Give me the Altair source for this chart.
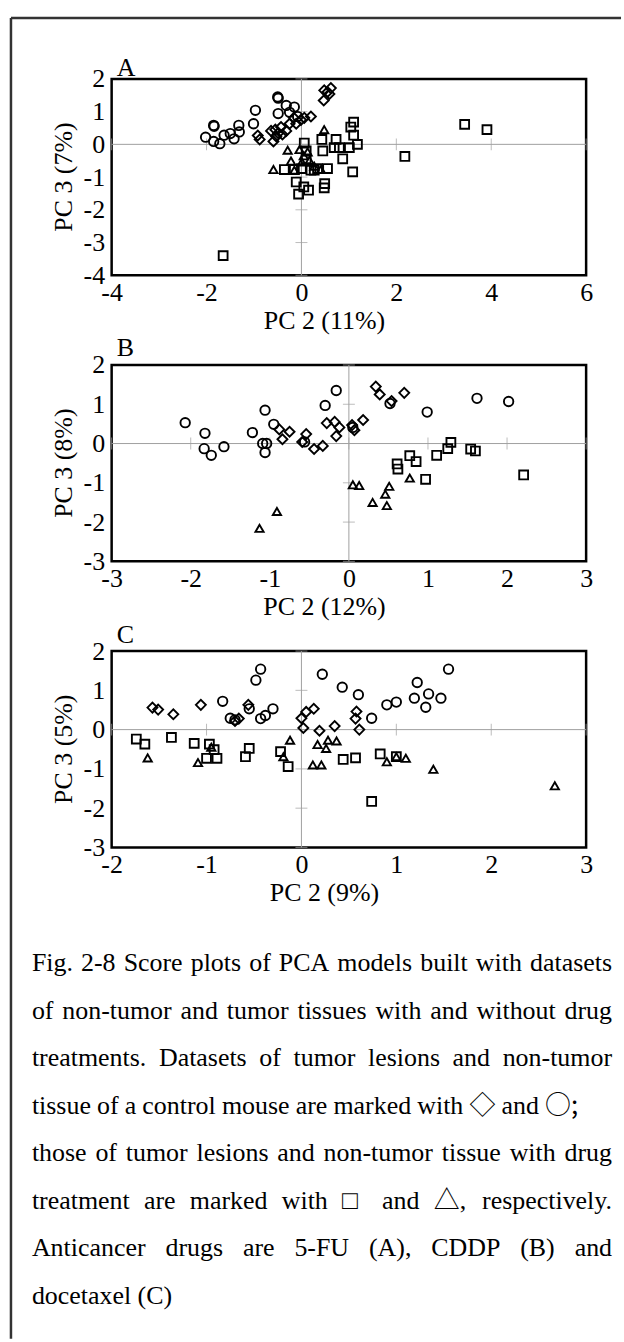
import altair as alt
import pandas as pd

FONT = "Liberation Serif"
CAP_FONT = "Liberation Serif, Noto Sans CJK JP"
SYM_FONT = "Noto Sans CJK JP"
FS = 26
GRAY = "#a0a0a0"

# ---------------- Panel A (5-FU) ----------------
A_dia_x = [-0.92, -0.88, -0.64, -0.59, -0.53, -0.49, -0.43, -0.32, -0.25, -0.16, -0.11, -0.01, 0.06, 0.20, -0.40, -0.55, 0.47, 0.48, 0.55, 0.59, 0.62]
A_dia_y = [0.27, 0.15, 0.41, 0.09, 0.24, 0.34, 0.53, 0.41, 0.63, 0.81, 0.63, 0.75, 0.81, 0.85, 0.30, 0.45, 1.34, 1.65, 1.60, 1.54, 1.72]
A_cir_x = [-2.02, -1.85, -1.84, -1.85, -1.72, -1.63, -1.50, -1.42, -1.32, -1.31, -1.01, -0.97, -0.49, -0.50, -0.49, -0.32, -0.15, -0.25, -0.08]
A_cir_y = [0.22, 0.58, 0.55, 0.09, 0.02, 0.28, 0.33, 0.17, 0.58, 0.38, 0.63, 1.04, 1.41, 1.45, 0.94, 1.19, 1.14, 0.98, 0.85]
A_sq_x = [1.10, 1.04, 1.10, 1.18, 1.01, 0.87, 1.08, 0.73, 0.80, 0.69, 0.43, 0.45, 0.55, 0.34, 0.27, 0.49, 0.48, 0.15, 0.05, -0.11, -0.06, 0.06, -0.36, 0.00, -0.15, 0.20, 0.10, 0.10, 3.44, 3.91, 2.18, -1.65]
A_sq_y = [0.68, 0.53, 0.28, 0.00, -0.10, -0.44, -0.84, 0.15, -0.10, -0.10, 0.15, -0.20, -0.74, -0.74, -0.79, -1.20, -1.33, -1.40, -1.30, -1.15, -1.52, 0.04, -0.77, -0.74, -0.77, -0.79, -0.44, -0.20, 0.61, 0.45, -0.37, -3.40]
A_tri_x = [0.48, -0.59, -0.29, -0.04, 0.13, -0.22, 0.01, 0.17, 0.41, 0.27, -0.15, 0.05]
A_tri_y = [0.45, -0.77, -0.18, -0.16, -0.23, -0.51, -0.54, -0.49, -0.77, -0.67, -0.79, -0.35]

# ---------------- Panel B (CDDP) ----------------
B_cir_x = [-2.07, -1.82, -1.83, -1.74, -1.58, -1.22, -1.06, -0.95, -1.09, -1.06, -1.04, -0.56, -0.30, -0.16, 0.05, 0.52, 0.99, 1.62, 2.02]
B_cir_y = [0.53, 0.26, -0.13, -0.30, -0.08, 0.28, 0.85, 0.49, 0.00, -0.23, 0.00, 0.04, 0.97, 1.35, 0.41, 1.02, 0.80, 1.15, 1.07]
B_dia_x = [-0.88, -0.84, -0.75, -0.54, -0.59, -0.44, -0.33, -0.28, -0.18, -0.12, -0.16, 0.04, 0.07, 0.18, 0.34, 0.39, 0.54, 0.70]
B_dia_y = [0.36, 0.11, 0.30, 0.24, 0.04, -0.14, -0.06, 0.52, 0.55, 0.41, 0.19, 0.47, 0.34, 0.60, 1.45, 1.25, 1.08, 1.29]
B_sq_x = [0.61, 0.62, 0.77, 0.85, 0.97, 1.11, 1.25, 1.29, 1.54, 1.60, 2.21]
B_sq_y = [-0.52, -0.65, -0.31, -0.46, -0.91, -0.30, -0.13, 0.03, -0.14, -0.19, -0.80]
B_tri_x = [0.05, 0.13, 0.51, 0.46, 0.30, 0.48, 0.77, -0.91, -1.13]
B_tri_y = [-1.05, -1.07, -1.09, -1.29, -1.50, -1.58, -0.88, -1.73, -2.16]

# ---------------- Panel C (docetaxel) ----------------
C_cir_x = [-0.43, -0.48, -0.83, -0.55, -0.75, -0.70, -0.43, -0.38, -0.30, 0.22, 0.43, 0.60, 0.74, 0.90, 1.00, 1.19, 1.22, 1.34, 1.31, 1.47, 1.55]
C_cir_y = [1.54, 1.26, 0.72, 0.53, 0.29, 0.25, 0.28, 0.36, 0.53, 1.41, 1.08, 0.89, 0.29, 0.63, 0.70, 0.80, 1.20, 0.91, 0.57, 0.80, 1.54]
C_dia_x = [-1.57, -1.51, -1.35, -1.06, -0.70, -0.56, -0.66, 0.00, 0.02, 0.05, 0.13, 0.19, 0.35, 0.58, 0.57, 0.61]
C_dia_y = [0.56, 0.51, 0.39, 0.63, 0.22, 0.63, 0.28, 0.29, 0.04, 0.45, 0.53, -0.03, 0.09, 0.46, 0.28, 0.00]
C_sq_x = [-1.74, -1.65, -1.37, -1.13, -0.97, -0.92, -1.00, -0.89, -0.55, -0.59, -0.22, -0.14, 0.44, 0.57, 0.83, 1.00, 0.74]
C_sq_y = [-0.24, -0.37, -0.20, -0.35, -0.37, -0.51, -0.73, -0.73, -0.48, -0.69, -0.56, -0.94, -0.76, -0.72, -0.62, -0.69, -1.83]
C_tri_x = [-1.62, -1.09, -0.95, -0.19, -0.12, 0.12, 0.21, 0.17, 0.26, 0.28, 0.37, 0.90, 1.00, 1.10, 1.39, 2.67]
C_tri_y = [-0.72, -0.84, -0.45, -0.69, -0.27, -0.90, -0.90, -0.38, -0.48, -0.27, -0.29, -0.82, -0.69, -0.73, -1.01, -1.43]

CAPTION = [
    "Fig. 2-8 Score plots of PCA models built with datasets",
    "of non-tumor and tumor tissues with and without drug",
    "treatments. Datasets of tumor lesions and non-tumor",
    "tissue of a control mouse are marked with \u25c7 and \u25cb;",
    "those of tumor lesions and non-tumor tissue with drug",
    "treatment are marked with \u25a1 and \u25b3, respectively.",
    "Anticancer drugs are 5-FU (A), CDDP (B) and",
    "docetaxel (C)",
]

GROUPS = ["diamond", "circle", "square", "triangle"]
SHAPES = ["diamond", "circle", "square", "triangle-up"]
SIZES = [100, 68, 68, 62]

# Times-like advance widths (per 1000 em) for justification of caption lines
TW = {' ': 250, '!': 333, '(': 333, ')': 333, ',': 250, '-': 333, '.': 250, ';': 278, '%': 833,
      'A': 722, 'B': 667, 'C': 667, 'D': 722, 'F': 556, 'P': 556, 'S': 556, 'U': 722,
      'a': 444, 'b': 500, 'c': 444, 'd': 500, 'e': 444, 'f': 333, 'g': 500, 'h': 500, 'i': 278,
      'k': 500, 'l': 278, 'm': 778, 'n': 500, 'o': 500, 'p': 500, 'r': 333, 's': 389, 't': 278,
      'u': 500, 'v': 500, 'w': 722, 'x': 500, 'y': 500,
      '\u25c7': 1000, '\u25cb': 1000, '\u25a1': 1000, '\u25b3': 1000}
for d in "0123456789":
    TW[d] = 500
CAP_FS = 26


def wid(s):
    return sum(TW.get(c, 500) for c in s) / 1000 * CAP_FS


def pts(groups):
    rows = []
    for g, (xs, ys) in groups.items():
        for x, y in zip(xs, ys):
            rows.append({"x": x, "y": y, "g": g})
    return pd.DataFrame(rows)


def panel(df, xdom, ydom, xticks, yticks, xtitle, ytitle, letter, letter_y):
    xsc = alt.Scale(domain=xdom, nice=False, zero=False)
    ysc = alt.Scale(domain=ydom, nice=False, zero=False)
    xax = alt.Axis(values=xticks, title=xtitle, labelExpr="'' + datum.value", labelPadding=4,
                   labelFlush=False, labelOverlap=False, labelBound=False,
                   titleX=213, titleY=45, titleAlign="center", titleBaseline="middle")
    yax = alt.Axis(values=yticks, title=ytitle, labelExpr="'' + datum.value", labelPadding=7,
                   labelFlush=False, labelOverlap=False, labelBound=False,
                   titleX=-48, titleY=98, titleAngle=-90, titleAlign="center", titleBaseline="middle")
    vline = alt.Chart(pd.DataFrame({"x": [0]})).mark_rule(color=GRAY, strokeWidth=1).encode(
        x=alt.X("x:Q", scale=xsc, axis=xax))
    hline = alt.Chart(pd.DataFrame({"y": [0]})).mark_rule(color=GRAY, strokeWidth=1).encode(
        y=alt.Y("y:Q", scale=ysc, axis=yax))
    xt = alt.Chart(pd.DataFrame({"x": xticks, "y": [0] * len(xticks)})).mark_tick(
        orient="vertical", size=12, thickness=1, color=GRAY).encode(
        x=alt.X("x:Q", scale=xsc, axis=xax), y=alt.Y("y:Q", scale=ysc, axis=yax))
    yt = alt.Chart(pd.DataFrame({"x": [0] * len(yticks), "y": yticks})).mark_tick(
        orient="horizontal", size=12, thickness=1, color=GRAY).encode(
        x=alt.X("x:Q", scale=xsc, axis=xax), y=alt.Y("y:Q", scale=ysc, axis=yax))
    points = alt.Chart(df).mark_point(filled=False, strokeWidth=1.9, color="black", opacity=1).encode(
        x=alt.X("x:Q", scale=xsc, axis=xax),
        y=alt.Y("y:Q", scale=ysc, axis=yax),
        shape=alt.Shape("g:N", scale=alt.Scale(domain=GROUPS, range=SHAPES), legend=None),
        size=alt.Size("g:O", scale=alt.Scale(domain=GROUPS, range=SIZES), legend=None),
    )
    lab = alt.Chart(pd.DataFrame({"t": [letter]})).mark_text(
        align="left", baseline="middle", font=FONT, fontSize=FS, color="black").encode(
        text="t:N", x=alt.value(5), y=alt.value(letter_y))
    return alt.layer(vline, hline, xt, yt, points, lab)


dfA = pts({"diamond": (A_dia_x, A_dia_y), "circle": (A_cir_x, A_cir_y),
           "square": (A_sq_x, A_sq_y), "triangle": (A_tri_x, A_tri_y)})
dfB = pts({"diamond": (B_dia_x, B_dia_y), "circle": (B_cir_x, B_cir_y),
           "square": (B_sq_x, B_sq_y), "triangle": (B_tri_x, B_tri_y)})
dfC = pts({"diamond": (C_dia_x, C_dia_y), "circle": (C_cir_x, C_cir_y),
           "square": (C_sq_x, C_sq_y), "triangle": (C_tri_x, C_tri_y)})

pA = panel(dfA, [-4, 6], [-4, 2], [-4, -2, 0, 2, 4, 6], [-4, -3, -2, -1, 0, 1, 2],
           "PC 2 (11%)", "PC 3 (7%)", "A", -11)
pB = panel(dfB, [-3, 3], [-3, 2], [-3, -2, -1, 0, 1, 2, 3], [-3, -2, -1, 0, 1, 2],
           "PC 2 (12%)", "PC 3 (8%)", "B", -17)
pC = panel(dfC, [-2, 3], [-3, 2], [-2, -1, 0, 1, 2, 3], [-3, -2, -1, 0, 1, 2],
           "PC 2 (9%)", "PC 3 (5%)", "C", -16)

# outer page frame (drawn relative to panel A's plot area)
frame_v = alt.Chart(pd.DataFrame({"a": [0]})).mark_rule(color="#333333", strokeWidth=2.5).encode(
    x=alt.value(-101), y=alt.value(-61), y2=alt.value(1264))
frame_h = alt.Chart(pd.DataFrame({"a": [0]})).mark_rule(color="#333333", strokeWidth=2.5).encode(
    x=alt.value(-101), x2=alt.value(511), y=alt.value(-61))
chartA = alt.layer(pA, frame_v, frame_h).properties(width=476, height=197)
chartB = pB.properties(width=476, height=197)

# caption words (positions relative to panel C's plot area)
L, R_FULL = -80, 502
rights = [R_FULL, R_FULL, R_FULL, 468, R_FULL, R_FULL, R_FULL, None]
rows = []
for i, line in enumerate(CAPTION):
    yy = 313 + i * 47.7
    R = rights[i]
    if R is None:
        rows.append({"w": line, "px": L, "py": yy, "al": "left"})
        continue
    words = line.split(" ")
    ws = [wid(w) for w in words]
    gap = (R - L - sum(ws)) / (len(words) - 1)
    x = L
    for j, w in enumerate(words):
        if j == len(words) - 1:
            rows.append({"w": w, "px": R, "py": yy, "al": "right"})
        else:
            rows.append({"w": w, "px": x, "py": yy, "al": "left"})
        x += ws[j] + gap
cap = pd.DataFrame(rows)
cap["sym"] = cap["w"].str.contains("\u25cb")


def cap_layer(sub, align, font):
    return alt.Chart(sub).mark_text(
        align=align, baseline="middle", font=font, fontSize=CAP_FS, color="black").encode(
        x=alt.X("px:Q", scale=None, axis=None), y=alt.Y("py:Q", scale=None, axis=None), text="w:N")


capL = cap_layer(cap[(cap.al == "left") & ~cap.sym], "left", CAP_FONT)
capR = cap_layer(cap[(cap.al == "right") & ~cap.sym], "right", CAP_FONT)
capS = cap_layer(cap[cap.sym], "right", SYM_FONT)
chartC = alt.layer(pC, capL, capR, capS).resolve_scale(x="independent", y="independent").properties(
    width=476, height=197)

chart = alt.vconcat(chartA, chartB, chartC, spacing=90, bounds="flush").properties(
    padding={"left": 8, "top": 13, "right": 0, "bottom": 0}
).configure(background="white").configure_view(
    stroke="black", strokeWidth=2.5
).configure_axis(
    domain=False, ticks=False, grid=False,
    labelFont=FONT, labelFontSize=FS, labelColor="black",
    titleFont=FONT, titleFontSize=FS, titleFontWeight="normal", titleColor="black",
)

chart.save("out.html", embed_options={"renderer": "svg", "actions": False})
